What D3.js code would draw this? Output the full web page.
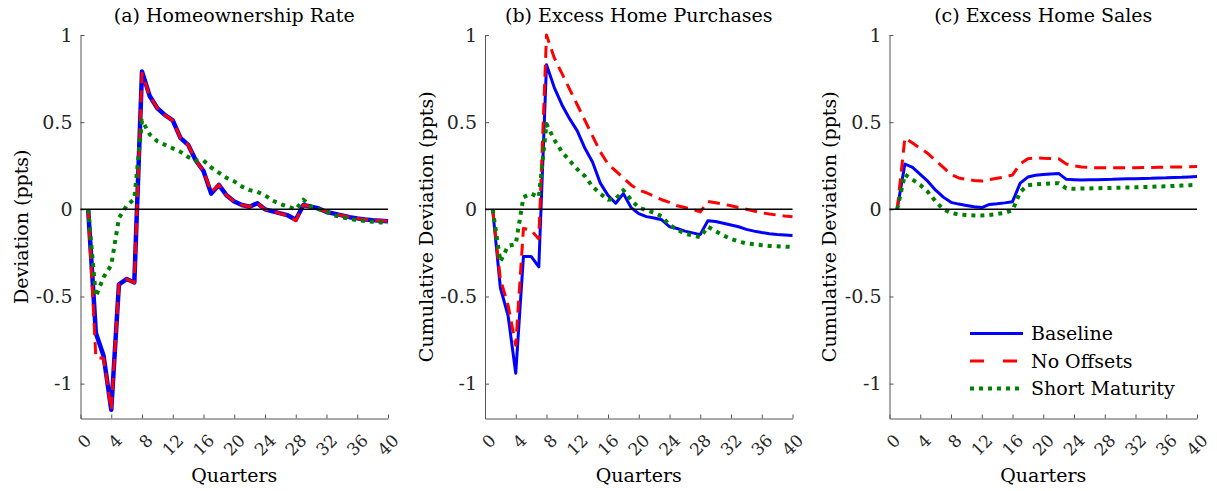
<html>
<head>
<title>Housing Responses</title>
<script src="https://d3js.org/d3.v7.min.js"></script>
<style>
    body { margin: 0; background: #fff; }
    text { font-family: "DejaVu Serif", serif; }
</style>
</head>
<body>
<div id="chart"></div>
<script>
// quarters after the shock (x values of every series)
var quarters = [1, 2, 3, 4, 5, 6, 7, 8, 9, 10, 11, 12, 13, 14, 15, 16, 17, 18, 19, 20,
    21, 22, 23, 24, 25, 26, 27, 28, 29, 30, 31, 32, 33, 34, 35, 36, 37, 38, 39, 40];
var xTicks = [0, 4, 8, 12, 16, 20, 24, 28, 32, 36, 40];
var yTicks = [-1, -0.5, 0, 0.5, 1];
var seriesNames = ["Baseline", "No Offsets", "Short Maturity"];
var panelTitles = ["(a) Homeownership Rate", "(b) Excess Home Purchases", "(c) Excess Home Sales"];
var yLabels = ["Deviation (ppts)", "Cumulative Deviation (ppts)", "Cumulative Deviation (ppts)"];
var xLabel = "Quarters";

// (a) homeownership rate
var ownBaseline = [0, -0.71, -0.84, -1.15, -0.43, -0.40, -0.42, 0.79, 0.65, 0.58,
    0.54, 0.51, 0.41, 0.37, 0.28, 0.22, 0.09, 0.14, 0.08, 0.045,
    0.025, 0.015, 0.035, 0.0, -0.012, -0.023, -0.035, -0.06, 0.025, 0.015,
    0.005, -0.015, -0.025, -0.035, -0.045, -0.052, -0.058, -0.062, -0.065, -0.068];
var ownNoOffsets = [0, -0.85, -0.855, -1.15, -0.43, -0.40, -0.42, 0.78, 0.65, 0.58,
    0.54, 0.51, 0.41, 0.37, 0.28, 0.22, 0.10, 0.14, 0.08, 0.045,
    0.025, 0.015, 0.035, 0.0, -0.012, -0.025, -0.037, -0.065, 0.025, 0.015,
    0.005, -0.015, -0.025, -0.035, -0.045, -0.052, -0.058, -0.062, -0.065, -0.068];
var ownShortMat = [0, -0.50, -0.39, -0.32, -0.05, 0.02, 0.06, 0.51, 0.43, 0.39,
    0.37, 0.35, 0.33, 0.30, 0.28, 0.28, 0.24, 0.21, 0.18, 0.16,
    0.13, 0.11, 0.10, 0.08, 0.05, 0.03, 0.015, 0.0, 0.055, 0.015,
    0.0, -0.015, -0.035, -0.045, -0.055, -0.062, -0.067, -0.071, -0.075, -0.078];

// (b) excess home purchases
var buyBaseline = [0, -0.45, -0.61, -0.94, -0.27, -0.27, -0.33, 0.83, 0.70, 0.60,
    0.52, 0.45, 0.35, 0.27, 0.15, 0.08, 0.035, 0.09, 0.01, -0.025,
    -0.042, -0.05, -0.06, -0.10, -0.11, -0.125, -0.135, -0.145, -0.065, -0.07,
    -0.08, -0.09, -0.10, -0.115, -0.125, -0.133, -0.14, -0.144, -0.147, -0.15];
var buyNoOffsets = [0, -0.40, -0.55, -0.78, -0.11, -0.12, -0.17, 1.0, 0.87, 0.78,
    0.69, 0.60, 0.51, 0.42, 0.33, 0.26, 0.22, 0.18, 0.14, 0.11,
    0.095, 0.075, 0.055, 0.04, 0.02, 0.01, 0.0, -0.015, 0.045, 0.038,
    0.03, 0.02, 0.01, 0.0, -0.01, -0.02, -0.027, -0.033, -0.038, -0.042];
var buyShortMat = [0, -0.30, -0.21, -0.20, 0.07, 0.09, 0.07, 0.49, 0.40, 0.33,
    0.28, 0.23, 0.19, 0.13, 0.09, 0.055, 0.06, 0.11, 0.055, 0.01,
    -0.005, -0.02, -0.04, -0.09, -0.115, -0.14, -0.15, -0.16, -0.10, -0.125,
    -0.15, -0.17, -0.185, -0.195, -0.20, -0.206, -0.21, -0.212, -0.214, -0.216];

// (c) excess home sales
var sellBaseline = [0, 0.26, 0.24, 0.20, 0.16, 0.11, 0.07, 0.04, 0.03, 0.022,
    0.015, 0.01, 0.028, 0.032, 0.037, 0.044, 0.15, 0.185, 0.195, 0.20,
    0.203, 0.206, 0.172, 0.17, 0.168, 0.169, 0.17, 0.171, 0.172, 0.174,
    0.175, 0.176, 0.177, 0.178, 0.18, 0.181, 0.183, 0.184, 0.186, 0.188];
var sellNoOffsets = [0, 0.41, 0.38, 0.35, 0.32, 0.28, 0.24, 0.20, 0.18, 0.172,
    0.165, 0.162, 0.17, 0.178, 0.186, 0.197, 0.26, 0.29, 0.295, 0.293,
    0.292, 0.29, 0.26, 0.25, 0.243, 0.24, 0.238, 0.238, 0.238, 0.238,
    0.238, 0.239, 0.24, 0.24, 0.241, 0.242, 0.243, 0.243, 0.244, 0.245];
var sellShortMat = [0, 0.20, 0.17, 0.14, 0.10, 0.045, 0.0, -0.02, -0.03, -0.033,
    -0.035, -0.036, -0.032, -0.027, -0.02, -0.005, 0.10, 0.138, 0.143, 0.146,
    0.149, 0.15, 0.12, 0.118, 0.119, 0.12, 0.121, 0.122, 0.123, 0.124,
    0.125, 0.126, 0.128, 0.129, 0.131, 0.132, 0.134, 0.136, 0.138, 0.14];

var panels = [
    [ownBaseline, ownNoOffsets, ownShortMat],
    [buyBaseline, buyNoOffsets, buyShortMat],
    [sellBaseline, sellNoOffsets, sellShortMat]
];

var colors = ["#0000ff", "#ff0000", "#008000"];
var dashes = [null, "12,7", "4,5"];
var widths = [[4.5, 3, 4], [3, 3, 4], [3, 3, 4]];

var W = 1217, H = 491;
var lefts = [80.5, 485, 889.5];
var plotW = 307.5;
var plotTop = 35, plotBottom = 418.5;
var fontSize = 19;

var svg = d3.select("#chart").append("svg")
    .attr("width", W)
    .attr("height", H);

function drawPanel(p) {
    var left = lefts[p];
    var x = d3.scaleLinear().domain([0, 40]).range([left, left + plotW]);
    var y = d3.scaleLinear().domain([-1.2, 1]).range([plotBottom, plotTop]);
    var g = svg.append("g");

    // axes, ticks pointing in
    var ax = g.append("g")
        .attr("transform", "translate(0," + plotBottom + ")")
        .call(d3.axisBottom(x).tickValues(xTicks).tickSizeInner(-4).tickSizeOuter(0).tickFormat(""));
    ax.selectAll("line, path").attr("stroke", "#555").attr("stroke-width", 1);

    var ay = g.append("g")
        .attr("transform", "translate(" + left + ",0)")
        .call(d3.axisLeft(y).tickValues(yTicks).tickSizeInner(-4).tickSizeOuter(0).tickPadding(8)
            .tickFormat(function(d) { return String(d); }));
    ay.selectAll("line, path").attr("stroke", "#555").attr("stroke-width", 1);
    ay.selectAll("text")
        .attr("font-family", "DejaVu Serif, serif")
        .attr("font-size", fontSize)
        .attr("fill", "#262626");

    // rotated x tick labels
    g.selectAll(".xlab").data(xTicks).enter().append("text")
        .attr("class", "xlab")
        .attr("transform", function(d) {
            return "translate(" + (x(d) + 12) + "," + (plotBottom + 23) + ") rotate(-45)";
        })
        .attr("text-anchor", "end")
        .attr("font-size", 17)
        .attr("fill", "#262626")
        .text(function(d) { return d; });

    // series
    var line = d3.line()
        .x(function(d, i) { return x(quarters[i]); })
        .y(function(d) { return y(d); });

    panels[p].forEach(function(vals, k) {
        g.append("path")
            .datum(vals)
            .attr("d", line)
            .attr("fill", "none")
            .attr("stroke", colors[k])
            .attr("stroke-width", widths[p][k])
            .attr("stroke-dasharray", dashes[k])
            .attr("stroke-linejoin", "round");
    });

    // zero line
    g.append("line")
        .attr("x1", x(0)).attr("x2", x(40))
        .attr("y1", y(0)).attr("y2", y(0))
        .attr("stroke", "#000")
        .attr("stroke-width", 1.6);

    g.append("text")
        .attr("x", (x(0) + x(40)) / 2)
        .attr("y", 22)
        .attr("text-anchor", "middle")
        .attr("font-size", fontSize)
        .text(panelTitles[p]);

    g.append("text")
        .attr("x", (x(0) + x(40)) / 2)
        .attr("y", 482)
        .attr("text-anchor", "middle")
        .attr("font-size", fontSize)
        .text(xLabel);

    var labX = [28, 433, 836][p];
    g.append("text")
        .attr("transform", "translate(" + labX + "," + (plotTop + plotBottom) / 2 + ") rotate(-90)")
        .attr("text-anchor", "middle")
        .attr("font-size", fontSize)
        .text(yLabels[p]);

    return g;
}

drawPanel(0);
drawPanel(1);
var last = drawPanel(2);

// legend in panel (c)
var legY = [333.5, 361, 388.5];
seriesNames.forEach(function(name, k) {
    last.append("line")
        .attr("x1", 970).attr("x2", 1023)
        .attr("y1", legY[k]).attr("y2", legY[k])
        .attr("stroke", colors[k])
        .attr("stroke-width", k == 2 ? 4 : 3)
        .attr("stroke-dasharray", k == 1 ? "14,19" : dashes[k]);
    last.append("text")
        .attr("x", 1031)
        .attr("y", legY[k] + 6.5)
        .attr("font-size", fontSize)
        .text(name);
});
</script>
</body>
</html>
